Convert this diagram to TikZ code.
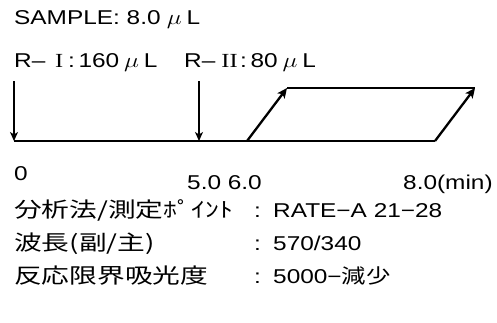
\documentclass[tikz,border=0pt]{standalone}
\usepackage{fontspec}
\usepackage{graphicx}
\setmainfont{Liberation Sans}
\newfontfamily\jpfont{Noto Sans CJK JP}
\newfontfamily\rom{Liberation Serif}
\newcommand{\lt}[1]{\scalebox{1.22}[1]{\fontsize{20}{24}\selectfont #1}}
\newcommand{\jt}[1]{\scalebox{1.32}[1]{\fontsize{21}{24}\selectfont\jpfont #1}}
\usetikzlibrary{arrows.meta}
\begin{document}
\begin{tikzpicture}[x=1pt,y=-1pt,
  txt/.style={inner sep=0pt,anchor=base west},
  axis/.style={line width=1.2pt},
  downarr/.style={line width=1.3pt,-{Stealth[length=9pt,width=8pt,inset=2.5pt]}},
  slantarr/.style={line width=2.3pt,-{Stealth[length=10pt,width=9pt,inset=2.5pt]}}]
\useasboundingbox (0,0) rectangle (497,322);
% timeline
\coordinate (o) at (14,141);
\coordinate (a5) at (199,141);
\coordinate (a6) at (247,141);
\coordinate (e) at (435,141);
\coordinate (t1) at (287,88);
\coordinate (t2) at (475,88);
\coordinate (s0) at (14,81);
\coordinate (s5) at (199,81);
\draw[axis] (o) -- (e);
\draw[axis] (t1) -- (t2);
\draw[downarr] (s0) -- (o);
\draw[downarr] (s5) -- (a5);
\draw[slantarr] (a6) -- (t1);
\draw[slantarr] (e) -- (t2);
% top texts
\node[txt] (samp) at (14,24) {\lt{SAMPLE: 8.0\hspace{5pt}$\mu$\hspace{4pt}L}};
\node[txt] (r1) at (14,67) {\lt{R–\hspace{8pt}{\rom I}\hspace{4pt}:\hspace{3pt}160\hspace{4pt}$\mu$\hspace{4pt}L}};
\node[txt] (r2) at (184,67) {\lt{R–\hspace{5pt}{\rom II}\hspace{2pt}:\hspace{3pt}80\hspace{4pt}$\mu$\hspace{4pt}L}};
% tick labels
\node[txt] (l0) at (14,180) {\lt{0}};
\node[txt] (l56) at (187,189) {\lt{5.0\ 6.0}};
\node[txt] (l8) at (403,189) {\lt{8.0(min)}};
% parameter rows
\node[txt] (p1) at (14,217) {\jt{分析法/測定ﾎﾟｲﾝﾄ}};
\node[txt] (c1) at (254,217) {\lt{:}};
\node[txt] (v1) at (273,217) {\lt{RATE−A 21−28}};
\node[txt] (p2) at (14,250) {\jt{波長(副/主)}};
\node[txt] (c2) at (254,250) {\lt{:}};
\node[txt] (v2) at (273,250) {\lt{570/340}};
\node[txt] (p3) at (14,283) {\jt{反応限界吸光度}};
\node[txt] (c3) at (254,283) {\lt{:}};
\node[txt] (v3) at (273,283) {\lt{5000−{\jpfont 減少}}};
\end{tikzpicture}
\end{document}
